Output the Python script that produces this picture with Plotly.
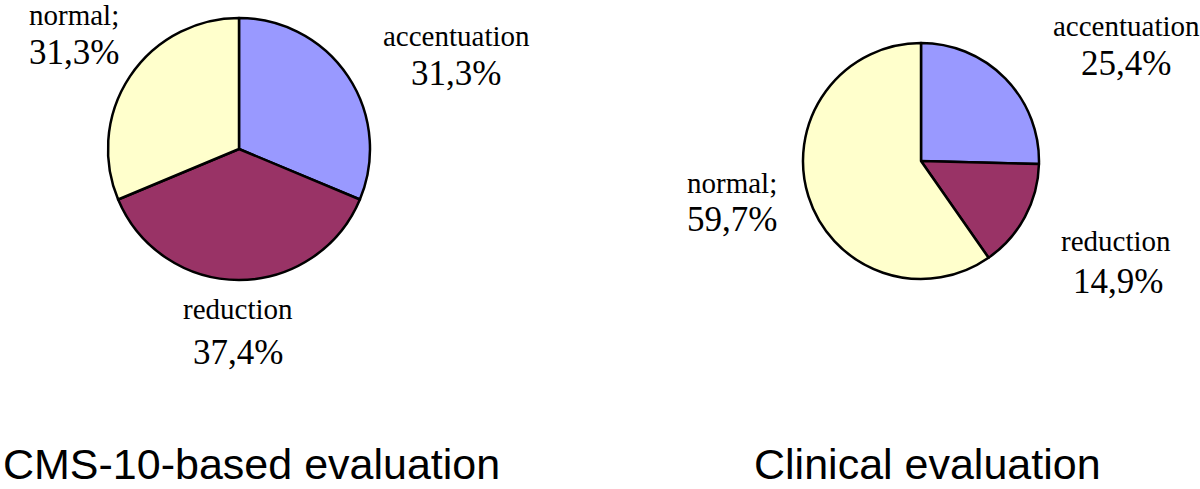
import plotly.graph_objects as go

W, H = 1200, 489

categories = ["accentuation", "reduction", "normal"]
cms_values = [31.3, 37.4, 31.3]
clinical_values = [25.4, 14.9, 59.7]
cms_labels = ["accentuation", "reduction", "normal;"]
clinical_labels = ["accentuation", "reduction", "normal;"]
titles = ["CMS-10-based evaluation", "Clinical evaluation"]
colors = ["#9999FF", "#993366", "#FFFFCC"]


def px_domain(cx, cy, r):
    return dict(x=[(cx - r) / W, (cx + r) / W], y=[1 - (cy + r) / H, 1 - (cy - r) / H])


fig = go.Figure()
for vals, dom in [(cms_values, px_domain(239, 149, 131)), (clinical_values, px_domain(921, 161, 118))]:
    fig.add_trace(go.Pie(
        labels=categories, values=vals, sort=False, direction="clockwise", rotation=0,
        marker=dict(colors=colors, line=dict(color="black", width=2.5)),
        textinfo="none", hoverinfo="label+percent", showlegend=False, domain=dom,
    ))


def fmt(v):
    return f"{v:.1f}".replace(".", ",") + "%"


serif = "Liberation Serif, Times New Roman, serif"
sans = "Liberation Sans, Arial, sans-serif"
ann = []


def add(text, x, y, size, family):
    ann.append(dict(text=text, x=x / W, y=1 - y / H, xref="paper", yref="paper",
                    xanchor="center", yanchor="middle", showarrow=False,
                    font=dict(size=size, family=family, color="black")))


# label positions (pixel centers) for name and value
cms_pos = [((456, 36), (456, 74)), ((238, 309), (238, 352)), ((74, 15), (74, 52))]
clin_pos = [((1126, 26), (1126, 64)), ((1116, 241), (1118, 281)), ((732, 183), (732, 219))]

for labs, vals, pos in [(cms_labels, cms_values, cms_pos), (clinical_labels, clinical_values, clin_pos)]:
    for lab, v, ((nx, ny), (vx, vy)) in zip(labs, vals, pos):
        add(lab, nx, ny, 29, serif)
        add(fmt(v), vx, vy, 35, serif)

add(titles[0], 251, 464, 43, sans)
add(titles[1], 927, 464, 43, sans)

fig.update_layout(
    width=W, height=H, margin=dict(l=0, r=0, t=0, b=0),
    paper_bgcolor="white", plot_bgcolor="white", annotations=ann,
)
fig.write_html("out.html", config={"displayModeBar": False},
               post_script="document.body.style.margin='0';document.body.style.overflow='hidden';")
